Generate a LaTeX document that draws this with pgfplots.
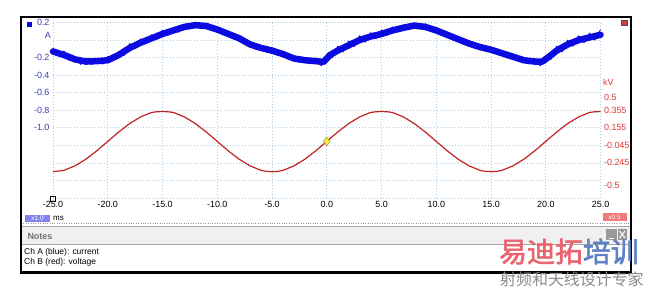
\documentclass[border=0pt]{standalone}
\usepackage{pgfplots}
\pgfplotsset{compat=1.18}
\usepackage{fontspec}
\setmainfont{Liberation Sans}
\newfontfamily\cjk[FakeBold=2]{Noto Sans CJK SC}
\newfontfamily\cjkn{Noto Sans CJK SC}
\definecolor{tblue}{RGB}{10,10,225}
\definecolor{tred}{RGB}{195,35,35}
\definecolor{lblue}{RGB}{60,60,190}
\definecolor{lred}{RGB}{215,60,60}
\definecolor{gridc}{RGB}{170,205,228}
\definecolor{wmred}{RGB}{232,100,110}
\definecolor{wmblue}{RGB}{95,130,195}
\definecolor{boxblue}{RGB}{130,130,240}
\definecolor{boxred}{RGB}{240,120,120}
\definecolor{sqred}{RGB}{220,60,60}
\definecolor{dfill}{RGB}{245,235,80}
\definecolor{ddraw}{RGB}{160,150,50}
\begin{document}
\begin{tikzpicture}[x=1bp,y=1bp]
\useasboundingbox (0,0) rectangle (654,-289);
\fill[white] (0,0) rectangle (654,-289);
% notes header
\fill[black!6] (21,-226) rectangle (631,-244);
\draw[black!35] (21,-226) -- (631,-226);
\draw[black!35] (21,-244) -- (631,-244);
\draw[black!40, dotted] (21,-223) -- (631,-223);
\node[anchor=west, text=black!55, font=\fontsize{9}{10}\selectfont\bfseries] at (24,-236) {Notes};
\fill[black!40] (606,-229) rectangle (616.5,-240);
\fill[black!40] (617.5,-229) rectangle (627,-240);
\draw[white, line width=1bp] (608.5,-238) -- (614,-238);
\draw[white, line width=1bp] (619.5,-231) -- (625,-238) (619.5,-238) -- (625,-231);
\node[anchor=west, font=\fontsize{8.5}{9}\selectfont, inner sep=0] at (24,-252.5) {Ch A (blue): current};
\node[anchor=west, font=\fontsize{8.5}{9}\selectfont, inner sep=0] at (24,-262) {Ch B (red): voltage};
% scale boxes
\fill[boxblue] (25,-214.5) rectangle (50,-221.5);
\node[text=white, font=\fontsize{6.5}{7}\selectfont, inner sep=0] at (37.5,-218) {x1.0};
\node[anchor=west, font=\fontsize{8}{9}\selectfont, inner sep=0] at (53,-218) {ms};
\fill[boxred] (602.5,-213) rectangle (626.5,-220.5);
\node[text=white, font=\fontsize{6.5}{7}\selectfont, inner sep=0] at (614.5,-216.8) {x0.5};
% channel squares
\fill[tblue] (26.5,-21.5) rectangle (32,-27);
\filldraw[fill=sqred, draw=black!70, line width=0.5bp] (621.5,-20) rectangle (627,-25.5);
% axis labels
\node[anchor=east, text=lblue, font=\fontsize{9}{10}\selectfont, inner sep=0] at (51,-35) {A};
\node[anchor=west, text=lred, font=\fontsize{9}{10}\selectfont, inner sep=0] at (603,-82) {kV};

\begin{axis}[at={(53bp,-198bp)}, anchor=south west, scale only axis,
  width=547.5bp, height=175.5bp,
  xmin=-25, xmax=25, ymin=-1.8, ymax=0.2,
  axis line style={draw=none}, major tick length=0,
  xtick={-25,-20,-15,-10,-5,0,5,10,15,20,25},
  xticklabels={-25.0,-20.0,-15.0,-10.0,-5.0,0.0,5.0,10.0,15.0,20.0,25.0},
  ytick={-1.8,-1.6,-1.4,-1.2,-1.0,-0.8,-0.6,-0.4,-0.2,0,0.2},
  yticklabels={,,,,-1.0,-0.8,-0.6,-0.4,-0.2,,0.2},
  grid=major, grid style={gridc, dash pattern=on 1bp off 2bp, line width=0.8bp},
  xticklabel style={font=\fontsize{9}{10}\selectfont, black},
  yticklabel style={font=\fontsize{9}{10}\selectfont, text=lblue},
  clip=false]
% current: band centre
\addplot[tblue, line width=6.5bp, line join=round, line cap=round] coordinates {
(-25,-0.13)(-24,-0.17)(-23,-0.22)(-22,-0.245)(-21,-0.24)(-20,-0.23)(-19,-0.17)(-18,-0.09)(-17,-0.03)(-16,0.02)
(-15,0.07)(-14,0.11)(-13,0.15)(-12,0.17)(-11,0.16)(-10,0.12)(-9,0.07)(-8,0.02)(-7,-0.05)(-6,-0.09)
(-5,-0.12)(-4,-0.16)(-3,-0.21)(-2,-0.23)(-1,-0.24)(-0.3,-0.25)(0.3,-0.17)(1,-0.12)(2,-0.06)(3,0.0)
(4,0.04)(5,0.07)(6,0.11)(7,0.14)(8,0.165)(9,0.15)(10,0.11)(11,0.06)(12,0.01)(13,-0.04)
(14,-0.08)(15,-0.11)(16,-0.15)(17,-0.19)(18,-0.23)(19,-0.245)(19.7,-0.245)(20.5,-0.17)(21,-0.12)(22,-0.05)
(23,0.0)(24,0.03)(25,0.06)
};
% current: noise
\addplot[tblue, line width=0.8bp, line join=round] coordinates {
(-25,-0.09)(-24.5,-0.185)(-24,-0.125)(-23.5,-0.235)(-23,-0.185)(-22.5,-0.278)(-22,-0.205)(-21.5,-0.278)(-21,-0.21)(-20.5,-0.275)
(-20,-0.185)(-19.5,-0.235)(-19,-0.13)(-18.5,-0.175)(-18,-0.04)(-17.5,-0.10)(-17,0.015)(-16.5,-0.045)(-16,0.06)(-15.5,0.01)
(-15,0.11)(-14.5,0.05)(-14,0.145)(-13.5,0.09)(-13,0.18)(-12.5,0.125)(-12,0.2)(-11.5,0.135)(-11,0.19)(-10.5,0.105)
(-10,0.15)(-9.5,0.06)(-9,0.1)(-8.5,0.01)(-8,0.05)(-7.5,-0.05)(-7,-0.02)(-6.5,-0.105)(-6,-0.06)(-5.5,-0.14)
(-5,-0.085)(-4.5,-0.175)(-4,-0.13)(-3.5,-0.22)(-3,-0.175)(-2.5,-0.255)(-2,-0.2)(-1.5,-0.27)(-1,-0.205)(-0.5,-0.295)
(0,-0.17)(0.5,-0.205)(1,-0.07)(1.5,-0.135)(2,-0.01)(2.5,-0.075)(3,0.05)(3.5,-0.025)(4,0.085)(4.5,0.015)
(5,0.115)(5.5,0.05)(6,0.15)(6.5,0.09)(7,0.175)(7.5,0.123)(8,0.195)(8.5,0.128)(9,0.185)(9.5,0.095)
(10,0.14)(10.5,0.05)(11,0.09)(11.5,0.0)(12,0.04)(12.5,-0.05)(13,-0.01)(13.5,-0.095)(14,-0.05)(14.5,-0.13)
(15,-0.08)(15.5,-0.165)(16,-0.12)(16.5,-0.205)(17,-0.155)(17.5,-0.245)(18,-0.195)(18.5,-0.273)(19,-0.21)(19.5,-0.295)
(20,-0.18)(20.5,-0.22)(21,-0.07)(21.5,-0.135)(22,0.0)(22.5,-0.07)(23,0.05)(23.5,-0.03)(24,0.08)(24.5,0.0)(25,0.12)
};
\addplot[only marks, mark=square, mark size=2.3bp, black, line width=0.6bp] coordinates {(-25,-1.81)};
\end{axis}

\begin{axis}[at={(53bp,-198bp)}, anchor=south west, scale only axis,
  width=547.5bp, height=175.5bp,
  xmin=-25, xmax=25, ymin=-0.645, ymax=1.355,
  axis line style={draw=none}, major tick length=0,
  axis y line*=right, xtick=\empty,
  ytick={-0.5,-0.245,-0.045,0.155,0.355,0.5},
  yticklabels={-0.5,-0.245,-0.045,0.155,0.355,0.5},
  yticklabel style={font=\fontsize{9}{10}\selectfont, text=lred},
  clip=false]
\addplot[tred, line width=1.2bp, line join=round] coordinates {
(-25,-0.345)(-24,-0.33)(-23,-0.279)(-22,-0.203)(-21,-0.107)(-20,0)(-19,0.107)(-18,0.203)(-17,0.279)(-16,0.33)
(-15.5,0.338)(-15,0.34)(-14.5,0.338)(-14,0.33)(-13,0.279)(-12,0.203)(-11,0.107)(-10,0)(-9,-0.107)(-8,-0.203)
(-7,-0.279)(-6,-0.33)(-5.5,-0.342)(-5,-0.345)(-4.5,-0.342)(-4,-0.33)(-3,-0.279)(-2,-0.203)(-1,-0.107)(0,0)
(1,0.107)(2,0.203)(3,0.279)(4,0.33)(4.5,0.338)(5,0.34)(5.5,0.338)(6,0.33)(7,0.279)(8,0.203)
(9,0.107)(10,0)(11,-0.107)(12,-0.203)(13,-0.279)(14,-0.33)(14.5,-0.342)(15,-0.345)(15.5,-0.342)(16,-0.33)
(17,-0.279)(18,-0.203)(19,-0.107)(20,0)(21,0.107)(22,0.203)(23,0.279)(24,0.33)(24.5,0.338)(25,0.34)
};
\addplot[only marks, mark=diamond*, mark size=4.5bp, mark options={fill=dfill, draw=ddraw, line width=0.5bp}] coordinates {(0,0)};
\end{axis}
% frame
\draw[line width=2.2bp] (21,-17) rectangle (631,-272.5);
% watermark
\node[anchor=west, inner sep=0, font=\cjk\fontsize{28}{30}\selectfont] at (499,-251.5) {\textcolor{wmred}{易迪拓}\textcolor{wmblue}{培训}};
\node[anchor=west, inner sep=0, text=black!45, font=\cjkn\fontsize{16}{17}\selectfont] at (500,-279) {射频和天线设计专家};
\end{tikzpicture}
\end{document}
